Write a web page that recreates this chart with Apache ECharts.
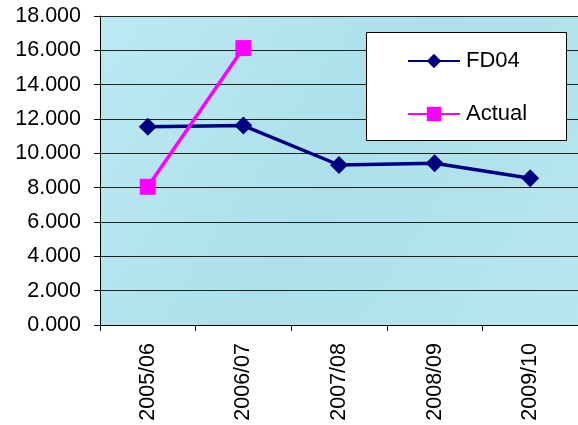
<!DOCTYPE html>
<html><head><meta charset="utf-8">
<script src="https://cdn.jsdelivr.net/npm/echarts@6/dist/echarts.min.js"></script>
<style>html,body{margin:0;padding:0;background:#fff}#c{width:578px;height:425px}</style>
</head><body><div id="c"></div>
<script>
const categories = ['2005/06','2006/07','2007/08','2008/09','2009/10'];
const fd04 = [11.55, 11.62, 9.32, 9.42, 8.55];
const actual = [8.05, 16.13, null, null, null];
const yTicks = [0, 2, 4, 6, 8, 10, 12, 14, 16, 18];

const chart = echarts.init(document.getElementById('c'), null, {renderer:'canvas'});
const font = '"Liberation Sans", Arial, sans-serif';
chart.setOption({
  animation:false,
  backgroundColor:'#ffffff',
  grid:{left:100, right:0, top:16, bottom:100, show:true, borderWidth:0,
    backgroundColor:{type:'linear',x:0,y:0,x2:1,y2:1,colorStops:[
      {offset:0,color:'#bde9f1'},{offset:0.5,color:'#ace0eb'},{offset:1,color:'#b8e6ef'}]}},
  graphic:[{type:'rect', shape:{x:366.5, y:32.5, width:200, height:108},
    style:{fill:'#ffffff', stroke:'#000', lineWidth:1}, z:10}],
  legend:{
    left:407, top:50, orient:'vertical', padding:0,
    itemGap:31, itemWidth:52, itemHeight:18, z:20,
    textStyle:{fontFamily:font, fontSize:22, color:'#000', padding:[0,0,0,1]},
    data:['FD04','Actual']
  },
  xAxis:{type:'category', data:categories, boundaryGap:true,
    axisLine:{lineStyle:{color:'#000',width:1}},
    axisTick:{show:true, length:6, lineStyle:{color:'#000'}},
    axisLabel:{rotate:90, fontFamily:font, fontSize:21.5, color:'#000', margin:18}},
  yAxis:{type:'value', min:0, max:18, interval:2,
    axisLine:{show:true, lineStyle:{color:'#000',width:1}},
    axisTick:{show:true, length:6, lineStyle:{color:'#000'}},
    splitLine:{show:true, lineStyle:{color:'#222', width:1}},
    axisLabel:{fontFamily:font, fontSize:21.5, color:'#000', margin:19,
      formatter:v=>yTicks.includes(v)?v.toFixed(3):''}},
  series:[
    {name:'FD04', type:'line', data:fd04, symbol:'diamond', symbolSize:18,
      lineStyle:{color:'#000080', width:3.5}, itemStyle:{color:'#000080'}},
    {name:'Actual', type:'line', data:actual, symbol:'rect', symbolSize:16,
      lineStyle:{color:'#ff00ff', width:3.5}, itemStyle:{color:'#ff00ff'}}
  ]
});
</script></body></html>
